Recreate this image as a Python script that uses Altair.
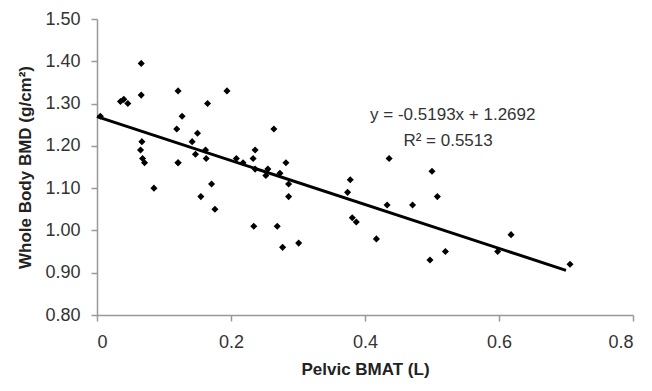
import altair as alt
import pandas as pd

# Scatter data
bmat = [0.005, 0.035, 0.040, 0.046, 0.066, 0.066, 0.067, 0.065, 0.068, 0.071,
        0.085, 0.121, 0.121, 0.119, 0.127, 0.121, 0.142, 0.147, 0.150, 0.155,
        0.162, 0.163, 0.165, 0.171, 0.176, 0.194, 0.208, 0.218, 0.233, 0.236,
        0.236, 0.234, 0.252, 0.255, 0.264, 0.269, 0.273, 0.277, 0.282, 0.286,
        0.286, 0.301, 0.374, 0.378, 0.381, 0.387, 0.417, 0.433, 0.436, 0.471,
        0.497, 0.500, 0.508, 0.520, 0.598, 0.618, 0.706]
bmd = [1.27, 1.305, 1.31, 1.30, 1.395, 1.32, 1.21, 1.19, 1.17, 1.16,
       1.10, 1.33, 1.16, 1.24, 1.27, 1.16, 1.21, 1.18, 1.23, 1.08,
       1.19, 1.17, 1.30, 1.11, 1.05, 1.33, 1.17, 1.16, 1.17, 1.19,
       1.145, 1.01, 1.13, 1.145, 1.24, 1.01, 1.135, 0.96, 1.16, 1.11,
       1.08, 0.97, 1.09, 1.12, 1.03, 1.02, 0.98, 1.06, 1.17, 1.06,
       0.93, 1.14, 1.08, 0.95, 0.95, 0.99, 0.92]

slope = -0.5193
intercept = 1.2692
fit_x = [0.0, 0.70]
fit_y = [intercept + slope * v for v in fit_x]

eq_text = ["y = -0.5193x + 1.2692", "R² = 0.5513"]
eq_x = [0.531, 0.524]
eq_y = [1.273, 1.211]

pts = pd.DataFrame({"x": bmat, "y": bmd})
fit = pd.DataFrame({"x": fit_x, "y": fit_y})
ann = pd.DataFrame({"x": eq_x, "y": eq_y, "t": eq_text})

xs = alt.Scale(domain=[0, 0.8], nice=False)
ys = alt.Scale(domain=[0.8, 1.5], nice=False, zero=False)

xax = alt.Axis(title="Pelvic BMAT (L)", values=[0, 0.2, 0.4, 0.6, 0.8],
               labelExpr="datum.value == 0 ? '0' : format(datum.value, '.1f')",
               grid=False, tickSize=6, labelPadding=12, titlePadding=10)
yax = alt.Axis(title="Whole Body BMD (g/cm²)", values=[0.8, 0.9, 1.0, 1.1, 1.2, 1.3, 1.4, 1.5],
               format=".2f", grid=False, tickSize=6, labelPadding=11, titlePadding=10)

points = alt.Chart(pts).mark_point(shape="diamond", filled=True, color="black", size=50, opacity=1).encode(
    x=alt.X("x:Q", scale=xs, axis=xax),
    y=alt.Y("y:Q", scale=ys, axis=yax),
)

line = alt.Chart(fit).mark_line(color="black", strokeWidth=3).encode(
    x=alt.X("x:Q", scale=xs),
    y=alt.Y("y:Q", scale=ys),
)

text = alt.Chart(ann).mark_text(font="Liberation Sans", fontSize=17, color="#333", align="center").encode(
    x=alt.X("x:Q", scale=xs),
    y=alt.Y("y:Q", scale=ys),
    text="t:N",
)

chart = alt.layer(line, points, text).properties(
    width=536, height=296,
    autosize=alt.AutoSizeParams(type="none"),
    padding={"left": 89, "top": 11, "right": 10, "bottom": 70},
).configure_view(stroke=None).configure_axis(
    domainColor="#999", domainWidth=1.5, tickColor="#999", tickWidth=1.5,
    labelFont="Liberation Sans", labelFontSize=18, labelColor="#333",
    titleFont="Liberation Sans", titleFontSize=17, titleColor="#222", titleFontWeight="bold",
)

chart.save("out.html", embed_options={"renderer": "svg", "actions": False})
